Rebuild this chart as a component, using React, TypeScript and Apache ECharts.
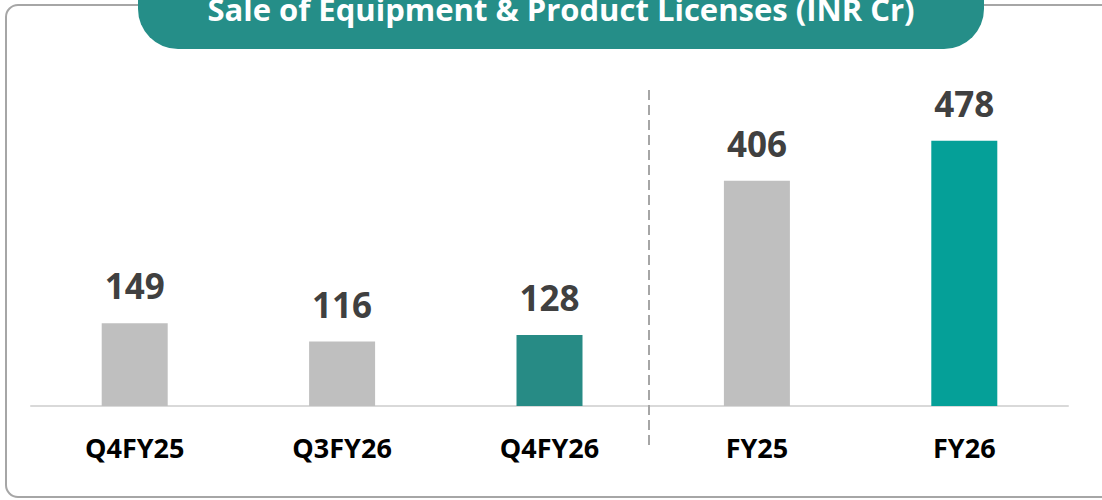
import React, { useEffect, useRef } from "react";
import * as echarts from "echarts";

const title = "Sale of Equipment & Product Licenses (INR Cr)";
const categories = ["Q4FY25", "Q3FY26", "Q4FY26", "FY25", "FY26"];
const values = [149, 116, 128, 406, 478];

const GRAY = "#bfbfbf";
const TEAL_DARK = "#278b85";
const TEAL = "#05a098";
const barColors = [GRAY, GRAY, TEAL_DARK, GRAY, TEAL];

export default function App() {
  const ref = useRef<HTMLDivElement>(null);
  useEffect(() => {
    if (!ref.current) return;
    const chart = echarts.init(ref.current, null, { renderer: "svg" });
    chart.setOption({
      animation: false,
      backgroundColor: "#ffffff",
      grid: { left: 31, right: 34, top: 73, bottom: 94 },
      xAxis: {
        type: "category",
        data: categories,
        axisLine: { lineStyle: { color: "#d9d9d9", width: 2 } },
        axisTick: { show: false },
        axisLabel: {
          margin: 28,
          color: "#000000",
          fontFamily: "Open Sans",
          fontWeight: "bold",
          fontSize: 27,
          lineHeight: 27,
        },
      },
      yAxis: {
        type: "value",
        min: 0,
        max: 600,
        show: false,
        splitLine: { show: false },
      },
      series: [
        {
          type: "bar",
          barWidth: 66,
          data: values.map((v, i) => ({ value: v, itemStyle: { color: barColors[i] } })),
          label: {
            show: true,
            position: "top",
            distance: 20,
            color: "#404040",
            fontFamily: "Open Sans",
            fontWeight: "bold",
            fontSize: 35,
            lineHeight: 35,
          },
        },
      ],
      graphic: [
        {
          type: "rect",
          shape: { x: 6, y: 5, width: 1130, height: 492, r: 12 },
          style: { fill: "none", stroke: "#a6a6a6", lineWidth: 2 },
          silent: true,
          z: 0,
        },
        {
          type: "rect",
          shape: { x: 138, y: -40, width: 846, height: 89, r: 40 },
          style: { fill: "#258e88" },
          z: 10,
        },
        {
          type: "text",
          x: 561,
          y: 9,
          style: {
            text: title,
            fill: "#ffffff",
            font: "bold 31px 'Open Sans'",
            textAlign: "center",
            textVerticalAlign: "middle",
          },
          z: 11,
        },
        {
          type: "line",
          shape: { x1: 649, y1: 90, x2: 649, y2: 445 },
          style: { stroke: "#a6a6a6", lineWidth: 2, lineDash: [10, 5] },
          z: 5,
        },
      ],
    });
    return () => chart.dispose();
  }, []);
  return (
    <div
      ref={ref}
      style={{ position: "absolute", left: 0, top: 0, width: 1102, height: 500 }}
    />
  );
}
